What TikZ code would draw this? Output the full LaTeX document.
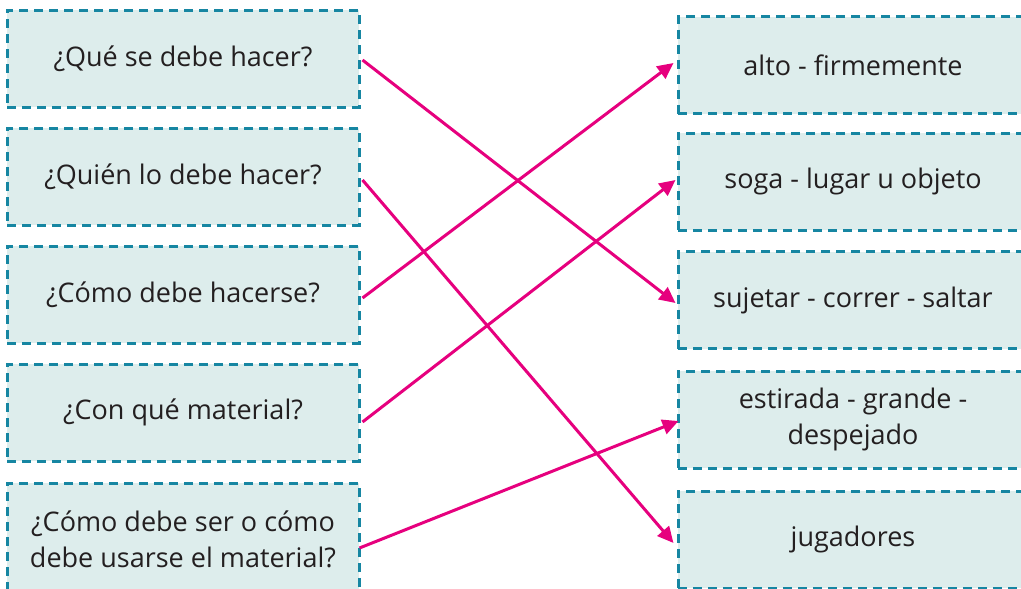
\documentclass[tikz,border=0pt]{standalone}
\usepackage{fontspec}
\setmainfont{Open Sans}
\usetikzlibrary{arrows.meta,calc}

\definecolor{boxfill}{HTML}{DDEDEC}
\definecolor{boxline}{HTML}{1686A2}
\definecolor{linkpink}{HTML}{E6007E}
\definecolor{textgray}{HTML}{231F20}

\begin{document}
\begin{tikzpicture}[x=1pt, y=-1pt,
    every node/.style={font=\fontsize{27}{36}\selectfont, text=textgray},
    qbox/.style={draw=boxline, fill=boxfill, line width=3pt,
        dash pattern=on 9pt off 6pt, minimum width=352pt, minimum height=97pt,
        inner sep=0pt, align=center},
    rbox/.style={qbox, minimum width=350pt},
    link/.style={draw=linkpink, line width=3pt, -{Triangle[length=16pt,width=15pt]}}]
    \useasboundingbox (0,0) rectangle (1021,589);
    % Questions
    \node[qbox] (q1) at (183,58.5) {¿Qué se debe hacer?};
    \node[qbox] (q2) at (183,176.5) {¿Quién lo debe hacer?};
    \node[qbox] (q3) at (183,294.5) {¿Cómo debe hacerse?};
    \node[qbox] (q4) at (183,412.5) {¿Con qué material?};
    \node[qbox, minimum height=112pt] (q5) at (183,539) {¿Cómo debe ser o cómo\\debe usarse el material?};
    % Answers
    \node[rbox] (r1) at (853,65) {alto - firmemente};
    \node[rbox] (r2) at (853,181.5) {soga - lugar u objeto};
    \node[rbox] (r3) at (853,300) {sujetar - correr - saltar};
    \node[rbox] (r4) at (853,419.5) {estirada - grande -\\despejado};
    \node[rbox] (r5) at (853,539.5) {jugadores};
    % Links
    \draw[link] ($(q1.east)+(2,1.5)$) -- ($(r3.west)+(-1,3)$);
    \draw[link] ($(q2.east)+(2,3.5)$) -- ($(r5.west)+(-3,3.5)$);
    \draw[link] ($(q3.east)+(2,3.5)$) -- ($(r1.west)+(-3,-2)$);
    \draw[link] ($(q4.east)+(2,9.5)$) -- ($(r2.west)+(-1,-1.5)$);
    \draw[link] ($(q5.east)+(-1,9)$) -- ($(r4.west)+(2,1.5)$);
\end{tikzpicture}
\end{document}
